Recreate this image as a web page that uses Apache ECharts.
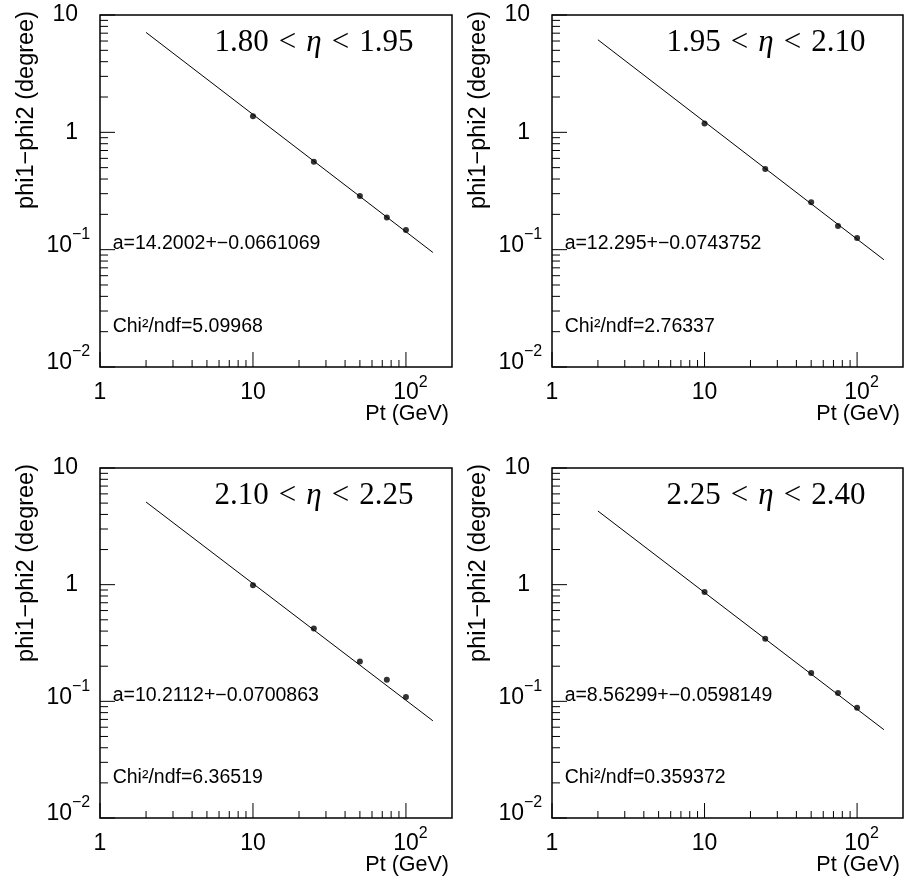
<!DOCTYPE html>
<html><head><meta charset="utf-8">
<script src="https://cdn.jsdelivr.net/npm/echarts@6/dist/echarts.min.js"></script>
<style>html,body{margin:0;padding:0;background:#fff}#c{width:904px;height:879px}</style>
</head><body><div id="c"></div>
<script>
// ---- data ----
const ptValues = [10, 25, 50, 75, 100];
const dphi1 = [1.37, 0.562, 0.286, 0.188, 0.147];
const dphi2 = [1.19, 0.487, 0.253, 0.159, 0.126];
const dphi3 = [0.99, 0.422, 0.219, 0.153, 0.109];
const dphi4 = [0.865, 0.344, 0.175, 0.118, 0.0883];
const fitPt = [2, 150];
const fit1 = [7.10, 0.0947];
const fit2 = [6.15, 0.0820];
const fit3 = [5.11, 0.0681];
const fit4 = [4.28, 0.0571];
const etaLow = ['1.80', '1.95', '2.10', '2.25'];
const etaHigh = ['1.95', '2.10', '2.25', '2.40'];
const fitText = ['a=14.2002+\u22120.0661069', 'a=12.295+\u22120.0743752', 'a=10.2112+\u22120.0700863', 'a=8.56299+\u22120.0598149'];
const chiText = ['Chi\u00b2/ndf=5.09968', 'Chi\u00b2/ndf=2.76337', 'Chi\u00b2/ndf=6.36519', 'Chi\u00b2/ndf=0.359372'];
const xTickValues = [1, 10, 100];
const xTickBase = ['1', '10', '10'];
const xTickExp = ['', '', '2'];
const yTickValues = [0.01, 0.1, 1, 10];
const yTickBase = ['10', '10', '1', '10'];
const yTickExp = ['\u22122', '\u22121', '', ''];
const minorSteps = [2, 3, 4, 5, 6, 7, 8, 9];
const xDecades = [1, 10, 100];
const yDecades = [0.01, 0.1, 1];
const xTitle = 'Pt (GeV)';
const yTitle = 'phi1\u2212phi2 (degree)';

const panelValues = [dphi1, dphi2, dphi3, dphi4];
const panelFits = [fit1, fit2, fit3, fit4];

// ---- layout ----
const grids = [
  {left: 100, top: 15, width: 352, height: 352},
  {left: 552, top: 15, width: 351, height: 352},
  {left: 100, top: 468, width: 352, height: 350},
  {left: 552, top: 468, width: 351, height: 350}
];
const SANS = 'Liberation Sans';
const SERIF = 'Liberation Serif';
const X_MIN = 1, X_MAX = 200, Y_MIN = 0.01, Y_MAX = 10;

function findIdx(vals, v) {
  for (let i = 0; i < vals.length; i++) {
    if (Math.abs(Math.log10(v) - Math.log10(vals[i])) < 1e-6) return i;
  }
  return -1;
}

// rich styles: 'top'-aligned tokens sit at lineTop + paddingTop (font box), 'middle' at line centre
const yRich = {
  bp: {fontSize: 23, fontFamily: SANS, color: '#000', lineHeight: 24, verticalAlign: 'middle'},
  p: {fontSize: 16, fontFamily: SANS, width: 12, lineHeight: 16, verticalAlign: 'middle'},
  bt: {fontSize: 23, fontFamily: SANS, color: '#000', lineHeight: 46, verticalAlign: 'top', padding: [7.5, 0, 0, 0]},
  e: {fontSize: 16, fontFamily: SANS, color: '#000', lineHeight: 16, verticalAlign: 'top', width: 18, align: 'left'}
};
const xRich = {
  b: {fontSize: 23, fontFamily: SANS, color: '#000', lineHeight: 36, verticalAlign: 'top', padding: [6.5, 0, 0, 0]},
  e: {fontSize: 16, fontFamily: SANS, color: '#000', lineHeight: 16, verticalAlign: 'top', width: 9, align: 'left'},
  s: {fontSize: 16, fontFamily: SANS, width: 9, lineHeight: 16, verticalAlign: 'top'}
};

function tickData() {
  const d = [];
  yDecades.forEach(dec => minorSteps.forEach(m => d.push([X_MIN, dec * m, 8, 0])));
  yTickValues.forEach(v => d.push([X_MIN, v, 15, 0]));
  xDecades.forEach(dec => minorSteps.forEach(m => { if (dec * m < X_MAX) d.push([dec * m, Y_MIN, 7, 1]); }));
  xTickValues.forEach(v => d.push([v, Y_MIN, 15, 1]));
  return d;
}

const option = {
  backgroundColor: '#fff',
  animation: false,
  grid: grids.map(g => Object.assign({show: true, borderColor: '#000', borderWidth: 1.5, backgroundColor: 'transparent'}, g)),
  xAxis: grids.map((g, i) => ({
    type: 'log', logBase: 10, min: X_MIN, max: X_MAX, gridIndex: i, position: 'bottom',
    axisLine: {show: false, onZero: false}, axisTick: {show: false}, splitLine: {show: false},
    axisLabel: {
      margin: 7.5, rich: xRich, showMaxLabel: false,
      formatter: v => {
        const k = findIdx(xTickValues, v);
        if (k < 0) return '';
        return xTickExp[k] ? '{s| }{b|' + xTickBase[k] + '}{e|' + xTickExp[k] + '}' : '{b|' + xTickBase[k] + '}';
      }
    }
  })),
  yAxis: grids.map((g, i) => ({
    type: 'log', logBase: 10, min: Y_MIN, max: Y_MAX, gridIndex: i, position: 'left',
    axisLine: {show: false, onZero: false}, axisTick: {show: false}, splitLine: {show: false},
    axisLabel: {
      margin: 10, rich: yRich,
      formatter: v => {
        const k = findIdx(yTickValues, v);
        if (k < 0) return '';
        return yTickExp[k] ? '{bt|' + yTickBase[k] + '}{e|' + yTickExp[k] + '}' : '{bp|' + yTickBase[k] + '}{p| }';
      }
    }
  })),
  series: []
};

grids.forEach((g, i) => {
  option.series.push({
    type: 'line', xAxisIndex: i, yAxisIndex: i, symbol: 'none',
    lineStyle: {color: '#000', width: 1},
    data: fitPt.map((x, k) => [x, panelFits[i][k]])
  });
  option.series.push({
    type: 'scatter', xAxisIndex: i, yAxisIndex: i, symbol: 'circle', symbolSize: 6,
    itemStyle: {color: '#000'},
    data: ptValues.map((x, k) => [x, panelValues[i][k]])
  });
  option.series.push({
    type: 'custom', xAxisIndex: i, yAxisIndex: i, silent: true,
    encode: {x: 0, y: 1},
    data: tickData(),
    renderItem: (params, api) => {
      const p = api.coord([api.value(0), api.value(1)]);
      const len = api.value(2);
      const vertical = api.value(3) === 1;
      return {
        type: 'line',
        shape: vertical ? {x1: p[0], y1: p[1], x2: p[0], y2: p[1] - len} : {x1: p[0], y1: p[1], x2: p[0] + len, y2: p[1]},
        style: {stroke: '#000', lineWidth: 1}
      };
    }
  });
});

const chart = echarts.init(document.getElementById('c'), null, {renderer: 'canvas'});
chart.setOption(option);

const graphics = [];
grids.forEach((g, i) => {
  const fitPos = chart.convertToPixel({gridIndex: i}, [1.21, 0.1]);
  const chiPos = chart.convertToPixel({gridIndex: i}, [1.21, 0.02]);
  graphics.push({
    type: 'text', x: g.left + 214, y: g.top + 28,
    style: {
      text: '{n|' + etaLow[i] + '}{r|<}{i|\u03b7}{r|<}{n|' + etaHigh[i] + '}',
      align: 'center', verticalAlign: 'middle',
      rich: {
        n: {fontSize: 31, fontFamily: SERIF, fill: '#000'},
        r: {fontSize: 31, fontFamily: SERIF, fill: '#000', padding: [0, 10]},
        i: {fontSize: 31, fontFamily: SERIF, fontStyle: 'italic', fill: '#000'}
      }
    }
  });
  graphics.push({
    type: 'text', x: fitPos[0], y: fitPos[1] - 6,
    style: {text: fitText[i], fontSize: 19.5, fontFamily: SANS, fill: '#000', align: 'left', verticalAlign: 'middle'}
  });
  graphics.push({
    type: 'text', x: chiPos[0], y: chiPos[1] - 5,
    style: {text: chiText[i], fontSize: 19.5, fontFamily: SANS, fill: '#000', align: 'left', verticalAlign: 'middle'}
  });
  graphics.push({
    type: 'text', x: g.left - 73, y: g.top - 4, rotation: Math.PI / 2,
    style: {text: yTitle, fontSize: 23.5, fontFamily: SANS, fill: '#000', align: 'right', verticalAlign: 'middle'}
  });
  graphics.push({
    type: 'text', x: g.left + g.width - 3, y: g.top + g.height + 36,
    style: {text: xTitle, fontSize: 21.5, fontFamily: SANS, fill: '#000', align: 'right', verticalAlign: 'top'}
  });
});
chart.setOption({graphic: graphics});
</script>
</body></html>
